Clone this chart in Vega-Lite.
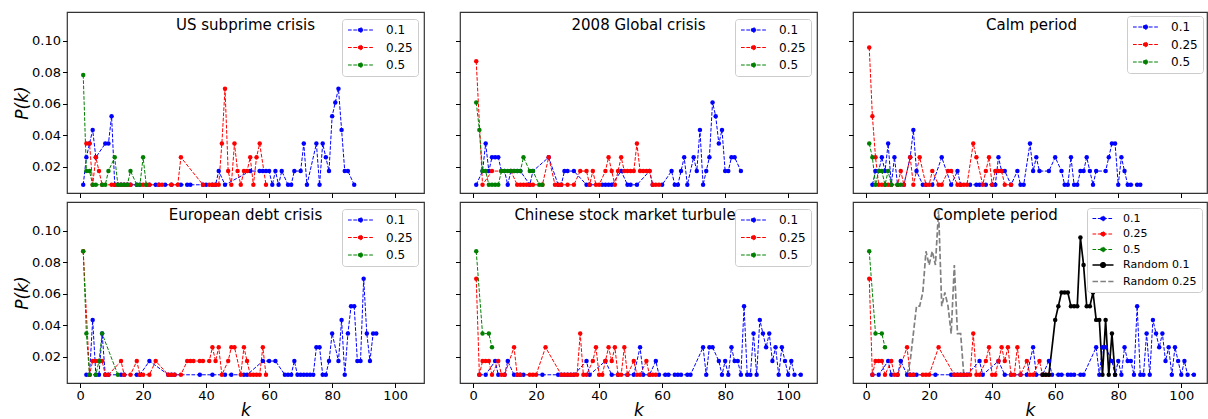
{
"$schema": "https://vega.github.io/schema/vega-lite/v6.json",
"padding": {"left": 12, "top": 11, "right": 0, "bottom": 0},
"background": "white",
"config": {
  "font": "DejaVu Sans",
  "view": {"stroke": "#333333", "strokeWidth": 1.2},
  "axis": {"domain": false, "grid": false, "tickColor": "#000000", "tickSize": 4.5, "tickWidth": 1, "labelFont": "DejaVu Sans", "labelFontSize": 13, "labelColor": "#000000", "labelPadding": 2, "titleFont": "DejaVu Sans", "titleFontSize": 17, "titleFontStyle": "italic", "titleFontWeight": "normal", "titleColor": "#000000"},
  "axisY": {"titlePadding": 0},
  "axisX": {"titlePadding": 0},
  "legend": {"labelFont": "DejaVu Sans", "labelColor": "#000000"},
  "title": {"font": "DejaVu Sans", "fontSize": 15, "fontWeight": "normal", "color": "#000000", "anchor": "middle", "frame": "group", "offset": -21, "baseline": "alphabetic"}
},
"data": {"values": [
{"panel":"US","series":"0.1","k":1,"p":0.0087},{"panel":"US","series":"0.1","k":2,"p":0.0261},{"panel":"US","series":"0.1","k":3,"p":0.0348},{"panel":"US","series":"0.1","k":4,"p":0.0435},{"panel":"US","series":"0.1","k":5,"p":0.0261},{"panel":"US","series":"0.1","k":8,"p":0.0348},{"panel":"US","series":"0.1","k":9,"p":0.0348},{"panel":"US","series":"0.1","k":10,"p":0.0522},{"panel":"US","series":"0.1","k":11,"p":0.0087},{"panel":"US","series":"0.1","k":12,"p":0.0087},{"panel":"US","series":"0.1","k":13,"p":0.0087},{"panel":"US","series":"0.1","k":14,"p":0.0087},{"panel":"US","series":"0.1","k":15,"p":0.0087},{"panel":"US","series":"0.1","k":16,"p":0.0087},{"panel":"US","series":"0.1","k":18,"p":0.0087},{"panel":"US","series":"0.1","k":19,"p":0.0087},{"panel":"US","series":"0.1","k":22,"p":0.0087},{"panel":"US","series":"0.1","k":24,"p":0.0087},{"panel":"US","series":"0.1","k":25,"p":0.0087},{"panel":"US","series":"0.1","k":27,"p":0.0087},{"panel":"US","series":"0.1","k":29,"p":0.0087},{"panel":"US","series":"0.1","k":32,"p":0.0087},{"panel":"US","series":"0.1","k":34,"p":0.0087},{"panel":"US","series":"0.1","k":35,"p":0.0087},{"panel":"US","series":"0.1","k":39,"p":0.0087},{"panel":"US","series":"0.1","k":40,"p":0.0087},{"panel":"US","series":"0.1","k":42,"p":0.0087},{"panel":"US","series":"0.1","k":43,"p":0.0087},{"panel":"US","series":"0.1","k":44,"p":0.0174},{"panel":"US","series":"0.1","k":46,"p":0.0087},{"panel":"US","series":"0.1","k":54,"p":0.0174},{"panel":"US","series":"0.1","k":57,"p":0.0174},{"panel":"US","series":"0.1","k":58,"p":0.0174},{"panel":"US","series":"0.1","k":59,"p":0.0174},{"panel":"US","series":"0.1","k":60,"p":0.0174},{"panel":"US","series":"0.1","k":61,"p":0.0087},{"panel":"US","series":"0.1","k":62,"p":0.0174},{"panel":"US","series":"0.1","k":63,"p":0.0087},{"panel":"US","series":"0.1","k":64,"p":0.0174},{"panel":"US","series":"0.1","k":66,"p":0.0087},{"panel":"US","series":"0.1","k":67,"p":0.0087},{"panel":"US","series":"0.1","k":68,"p":0.0174},{"panel":"US","series":"0.1","k":70,"p":0.0174},{"panel":"US","series":"0.1","k":71,"p":0.0348},{"panel":"US","series":"0.1","k":72,"p":0.0087},{"panel":"US","series":"0.1","k":75,"p":0.0348},{"panel":"US","series":"0.1","k":76,"p":0.0087},{"panel":"US","series":"0.1","k":77,"p":0.0348},{"panel":"US","series":"0.1","k":78,"p":0.0261},{"panel":"US","series":"0.1","k":79,"p":0.0174},{"panel":"US","series":"0.1","k":80,"p":0.0522},{"panel":"US","series":"0.1","k":81,"p":0.0609},{"panel":"US","series":"0.1","k":82,"p":0.0696},{"panel":"US","series":"0.1","k":83,"p":0.0435},{"panel":"US","series":"0.1","k":84,"p":0.0174},{"panel":"US","series":"0.1","k":85,"p":0.0174},{"panel":"US","series":"0.1","k":87,"p":0.0087},
{"panel":"US","series":"0.25","k":2,"p":0.0348},{"panel":"US","series":"0.25","k":3,"p":0.0348},{"panel":"US","series":"0.25","k":4,"p":0.0087},{"panel":"US","series":"0.25","k":5,"p":0.0261},{"panel":"US","series":"0.25","k":6,"p":0.0174},{"panel":"US","series":"0.25","k":7,"p":0.0087},{"panel":"US","series":"0.25","k":10,"p":0.0087},{"panel":"US","series":"0.25","k":11,"p":0.0087},{"panel":"US","series":"0.25","k":12,"p":0.0087},{"panel":"US","series":"0.25","k":13,"p":0.0087},{"panel":"US","series":"0.25","k":14,"p":0.0087},{"panel":"US","series":"0.25","k":15,"p":0.0087},{"panel":"US","series":"0.25","k":16,"p":0.0087},{"panel":"US","series":"0.25","k":20,"p":0.0087},{"panel":"US","series":"0.25","k":21,"p":0.0087},{"panel":"US","series":"0.25","k":22,"p":0.0087},{"panel":"US","series":"0.25","k":25,"p":0.0087},{"panel":"US","series":"0.25","k":26,"p":0.0087},{"panel":"US","series":"0.25","k":29,"p":0.0087},{"panel":"US","series":"0.25","k":31,"p":0.0087},{"panel":"US","series":"0.25","k":32,"p":0.0261},{"panel":"US","series":"0.25","k":39,"p":0.0087},{"panel":"US","series":"0.25","k":41,"p":0.0087},{"panel":"US","series":"0.25","k":42,"p":0.0087},{"panel":"US","series":"0.25","k":43,"p":0.0087},{"panel":"US","series":"0.25","k":44,"p":0.0087},{"panel":"US","series":"0.25","k":45,"p":0.0348},{"panel":"US","series":"0.25","k":46,"p":0.0696},{"panel":"US","series":"0.25","k":47,"p":0.0174},{"panel":"US","series":"0.25","k":48,"p":0.0087},{"panel":"US","series":"0.25","k":49,"p":0.0348},{"panel":"US","series":"0.25","k":50,"p":0.0174},{"panel":"US","series":"0.25","k":51,"p":0.0087},{"panel":"US","series":"0.25","k":52,"p":0.0174},{"panel":"US","series":"0.25","k":53,"p":0.0174},{"panel":"US","series":"0.25","k":54,"p":0.0261},{"panel":"US","series":"0.25","k":55,"p":0.0087},{"panel":"US","series":"0.25","k":56,"p":0.0261},{"panel":"US","series":"0.25","k":57,"p":0.0348},{"panel":"US","series":"0.25","k":59,"p":0.0087},
{"panel":"US","series":"0.5","k":1,"p":0.0783},{"panel":"US","series":"0.5","k":2,"p":0.0174},{"panel":"US","series":"0.5","k":3,"p":0.0174},{"panel":"US","series":"0.5","k":4,"p":0.0087},{"panel":"US","series":"0.5","k":5,"p":0.0087},{"panel":"US","series":"0.5","k":7,"p":0.0087},{"panel":"US","series":"0.5","k":8,"p":0.0087},{"panel":"US","series":"0.5","k":9,"p":0.0174},{"panel":"US","series":"0.5","k":11,"p":0.0261},{"panel":"US","series":"0.5","k":12,"p":0.0087},{"panel":"US","series":"0.5","k":13,"p":0.0087},{"panel":"US","series":"0.5","k":14,"p":0.0087},{"panel":"US","series":"0.5","k":15,"p":0.0087},{"panel":"US","series":"0.5","k":16,"p":0.0174},{"panel":"US","series":"0.5","k":18,"p":0.0087},{"panel":"US","series":"0.5","k":19,"p":0.0087},{"panel":"US","series":"0.5","k":20,"p":0.0261},{"panel":"US","series":"0.5","k":21,"p":0.0087},
{"panel":"GL","series":"0.1","k":1,"p":0.0087},{"panel":"GL","series":"0.1","k":3,"p":0.0174},{"panel":"GL","series":"0.1","k":4,"p":0.0348},{"panel":"GL","series":"0.1","k":5,"p":0.0174},{"panel":"GL","series":"0.1","k":6,"p":0.0261},{"panel":"GL","series":"0.1","k":7,"p":0.0261},{"panel":"GL","series":"0.1","k":8,"p":0.0261},{"panel":"GL","series":"0.1","k":9,"p":0.0174},{"panel":"GL","series":"0.1","k":10,"p":0.0174},{"panel":"GL","series":"0.1","k":11,"p":0.0087},{"panel":"GL","series":"0.1","k":12,"p":0.0174},{"panel":"GL","series":"0.1","k":13,"p":0.0174},{"panel":"GL","series":"0.1","k":14,"p":0.0174},{"panel":"GL","series":"0.1","k":15,"p":0.0174},{"panel":"GL","series":"0.1","k":18,"p":0.0087},{"panel":"GL","series":"0.1","k":19,"p":0.0174},{"panel":"GL","series":"0.1","k":24,"p":0.0261},{"panel":"GL","series":"0.1","k":27,"p":0.0087},{"panel":"GL","series":"0.1","k":28,"p":0.0087},{"panel":"GL","series":"0.1","k":29,"p":0.0174},{"panel":"GL","series":"0.1","k":30,"p":0.0174},{"panel":"GL","series":"0.1","k":32,"p":0.0174},{"panel":"GL","series":"0.1","k":36,"p":0.0087},{"panel":"GL","series":"0.1","k":37,"p":0.0087},{"panel":"GL","series":"0.1","k":41,"p":0.0087},{"panel":"GL","series":"0.1","k":42,"p":0.0087},{"panel":"GL","series":"0.1","k":43,"p":0.0087},{"panel":"GL","series":"0.1","k":44,"p":0.0087},{"panel":"GL","series":"0.1","k":47,"p":0.0174},{"panel":"GL","series":"0.1","k":49,"p":0.0087},{"panel":"GL","series":"0.1","k":50,"p":0.0087},{"panel":"GL","series":"0.1","k":52,"p":0.0087},{"panel":"GL","series":"0.1","k":56,"p":0.0174},{"panel":"GL","series":"0.1","k":57,"p":0.0087},{"panel":"GL","series":"0.1","k":60,"p":0.0087},{"panel":"GL","series":"0.1","k":63,"p":0.0174},{"panel":"GL","series":"0.1","k":64,"p":0.0087},{"panel":"GL","series":"0.1","k":65,"p":0.0087},{"panel":"GL","series":"0.1","k":66,"p":0.0174},{"panel":"GL","series":"0.1","k":67,"p":0.0261},{"panel":"GL","series":"0.1","k":68,"p":0.0087},{"panel":"GL","series":"0.1","k":70,"p":0.0261},{"panel":"GL","series":"0.1","k":71,"p":0.0174},{"panel":"GL","series":"0.1","k":72,"p":0.0435},{"panel":"GL","series":"0.1","k":73,"p":0.0087},{"panel":"GL","series":"0.1","k":74,"p":0.0174},{"panel":"GL","series":"0.1","k":75,"p":0.0261},{"panel":"GL","series":"0.1","k":76,"p":0.0609},{"panel":"GL","series":"0.1","k":77,"p":0.0522},{"panel":"GL","series":"0.1","k":78,"p":0.0348},{"panel":"GL","series":"0.1","k":79,"p":0.0435},{"panel":"GL","series":"0.1","k":80,"p":0.0174},{"panel":"GL","series":"0.1","k":81,"p":0.0174},{"panel":"GL","series":"0.1","k":82,"p":0.0261},{"panel":"GL","series":"0.1","k":83,"p":0.0261},{"panel":"GL","series":"0.1","k":85,"p":0.0174},
{"panel":"GL","series":"0.25","k":1,"p":0.087},{"panel":"GL","series":"0.25","k":3,"p":0.0087},{"panel":"GL","series":"0.25","k":6,"p":0.0174},{"panel":"GL","series":"0.25","k":9,"p":0.0174},{"panel":"GL","series":"0.25","k":12,"p":0.0174},{"panel":"GL","series":"0.25","k":14,"p":0.0087},{"panel":"GL","series":"0.25","k":15,"p":0.0087},{"panel":"GL","series":"0.25","k":16,"p":0.0087},{"panel":"GL","series":"0.25","k":17,"p":0.0087},{"panel":"GL","series":"0.25","k":18,"p":0.0087},{"panel":"GL","series":"0.25","k":19,"p":0.0087},{"panel":"GL","series":"0.25","k":22,"p":0.0087},{"panel":"GL","series":"0.25","k":24,"p":0.0261},{"panel":"GL","series":"0.25","k":26,"p":0.0087},{"panel":"GL","series":"0.25","k":27,"p":0.0087},{"panel":"GL","series":"0.25","k":28,"p":0.0087},{"panel":"GL","series":"0.25","k":30,"p":0.0087},{"panel":"GL","series":"0.25","k":32,"p":0.0087},{"panel":"GL","series":"0.25","k":34,"p":0.0174},{"panel":"GL","series":"0.25","k":36,"p":0.0174},{"panel":"GL","series":"0.25","k":37,"p":0.0087},{"panel":"GL","series":"0.25","k":38,"p":0.0174},{"panel":"GL","series":"0.25","k":39,"p":0.0087},{"panel":"GL","series":"0.25","k":40,"p":0.0087},{"panel":"GL","series":"0.25","k":42,"p":0.0174},{"panel":"GL","series":"0.25","k":43,"p":0.0261},{"panel":"GL","series":"0.25","k":44,"p":0.0174},{"panel":"GL","series":"0.25","k":45,"p":0.0087},{"panel":"GL","series":"0.25","k":46,"p":0.0174},{"panel":"GL","series":"0.25","k":47,"p":0.0261},{"panel":"GL","series":"0.25","k":48,"p":0.0174},{"panel":"GL","series":"0.25","k":49,"p":0.0174},{"panel":"GL","series":"0.25","k":50,"p":0.0174},{"panel":"GL","series":"0.25","k":51,"p":0.0174},{"panel":"GL","series":"0.25","k":52,"p":0.0348},{"panel":"GL","series":"0.25","k":53,"p":0.0174},{"panel":"GL","series":"0.25","k":54,"p":0.0174},{"panel":"GL","series":"0.25","k":55,"p":0.0174},{"panel":"GL","series":"0.25","k":56,"p":0.0174},{"panel":"GL","series":"0.25","k":57,"p":0.0087},{"panel":"GL","series":"0.25","k":58,"p":0.0087},{"panel":"GL","series":"0.25","k":59,"p":0.0087},
{"panel":"GL","series":"0.5","k":1,"p":0.0609},{"panel":"GL","series":"0.5","k":2,"p":0.0435},{"panel":"GL","series":"0.5","k":3,"p":0.0174},{"panel":"GL","series":"0.5","k":4,"p":0.0174},{"panel":"GL","series":"0.5","k":5,"p":0.0087},{"panel":"GL","series":"0.5","k":6,"p":0.0087},{"panel":"GL","series":"0.5","k":7,"p":0.0087},{"panel":"GL","series":"0.5","k":8,"p":0.0087},{"panel":"GL","series":"0.5","k":9,"p":0.0174},{"panel":"GL","series":"0.5","k":10,"p":0.0174},{"panel":"GL","series":"0.5","k":11,"p":0.0174},{"panel":"GL","series":"0.5","k":12,"p":0.0174},{"panel":"GL","series":"0.5","k":13,"p":0.0174},{"panel":"GL","series":"0.5","k":14,"p":0.0174},{"panel":"GL","series":"0.5","k":15,"p":0.0174},{"panel":"GL","series":"0.5","k":16,"p":0.0261},{"panel":"GL","series":"0.5","k":18,"p":0.0174},{"panel":"GL","series":"0.5","k":19,"p":0.0174},{"panel":"GL","series":"0.5","k":21,"p":0.0087},{"panel":"GL","series":"0.5","k":22,"p":0.0087},
{"panel":"CA","series":"0.1","k":2,"p":0.0087},{"panel":"CA","series":"0.1","k":3,"p":0.0174},{"panel":"CA","series":"0.1","k":4,"p":0.0174},{"panel":"CA","series":"0.1","k":5,"p":0.0261},{"panel":"CA","series":"0.1","k":6,"p":0.0174},{"panel":"CA","series":"0.1","k":7,"p":0.0348},{"panel":"CA","series":"0.1","k":8,"p":0.0087},{"panel":"CA","series":"0.1","k":9,"p":0.0261},{"panel":"CA","series":"0.1","k":10,"p":0.0087},{"panel":"CA","series":"0.1","k":12,"p":0.0087},{"panel":"CA","series":"0.1","k":14,"p":0.0261},{"panel":"CA","series":"0.1","k":15,"p":0.0435},{"panel":"CA","series":"0.1","k":16,"p":0.0174},{"panel":"CA","series":"0.1","k":18,"p":0.0087},{"panel":"CA","series":"0.1","k":19,"p":0.0087},{"panel":"CA","series":"0.1","k":21,"p":0.0087},{"panel":"CA","series":"0.1","k":24,"p":0.0261},{"panel":"CA","series":"0.1","k":27,"p":0.0087},{"panel":"CA","series":"0.1","k":29,"p":0.0174},{"panel":"CA","series":"0.1","k":30,"p":0.0087},{"panel":"CA","series":"0.1","k":33,"p":0.0087},{"panel":"CA","series":"0.1","k":35,"p":0.0087},{"panel":"CA","series":"0.1","k":36,"p":0.0087},{"panel":"CA","series":"0.1","k":38,"p":0.0087},{"panel":"CA","series":"0.1","k":40,"p":0.0087},{"panel":"CA","series":"0.1","k":41,"p":0.0087},{"panel":"CA","series":"0.1","k":42,"p":0.0261},{"panel":"CA","series":"0.1","k":43,"p":0.0174},{"panel":"CA","series":"0.1","k":44,"p":0.0174},{"panel":"CA","series":"0.1","k":46,"p":0.0087},{"panel":"CA","series":"0.1","k":48,"p":0.0174},{"panel":"CA","series":"0.1","k":49,"p":0.0087},{"panel":"CA","series":"0.1","k":50,"p":0.0087},{"panel":"CA","series":"0.1","k":52,"p":0.0348},{"panel":"CA","series":"0.1","k":53,"p":0.0174},{"panel":"CA","series":"0.1","k":54,"p":0.0261},{"panel":"CA","series":"0.1","k":55,"p":0.0174},{"panel":"CA","series":"0.1","k":58,"p":0.0174},{"panel":"CA","series":"0.1","k":60,"p":0.0261},{"panel":"CA","series":"0.1","k":62,"p":0.0174},{"panel":"CA","series":"0.1","k":63,"p":0.0087},{"panel":"CA","series":"0.1","k":64,"p":0.0087},{"panel":"CA","series":"0.1","k":65,"p":0.0261},{"panel":"CA","series":"0.1","k":66,"p":0.0087},{"panel":"CA","series":"0.1","k":67,"p":0.0087},{"panel":"CA","series":"0.1","k":68,"p":0.0174},{"panel":"CA","series":"0.1","k":69,"p":0.0174},{"panel":"CA","series":"0.1","k":70,"p":0.0261},{"panel":"CA","series":"0.1","k":71,"p":0.0174},{"panel":"CA","series":"0.1","k":72,"p":0.0087},{"panel":"CA","series":"0.1","k":73,"p":0.0174},{"panel":"CA","series":"0.1","k":76,"p":0.0174},{"panel":"CA","series":"0.1","k":77,"p":0.0261},{"panel":"CA","series":"0.1","k":78,"p":0.0348},{"panel":"CA","series":"0.1","k":79,"p":0.0348},{"panel":"CA","series":"0.1","k":80,"p":0.0087},{"panel":"CA","series":"0.1","k":81,"p":0.0261},{"panel":"CA","series":"0.1","k":82,"p":0.0174},{"panel":"CA","series":"0.1","k":83,"p":0.0087},{"panel":"CA","series":"0.1","k":84,"p":0.0087},{"panel":"CA","series":"0.1","k":86,"p":0.0087},{"panel":"CA","series":"0.1","k":87,"p":0.0087},
{"panel":"CA","series":"0.25","k":1,"p":0.0957},{"panel":"CA","series":"0.25","k":2,"p":0.0522},{"panel":"CA","series":"0.25","k":3,"p":0.0261},{"panel":"CA","series":"0.25","k":4,"p":0.0087},{"panel":"CA","series":"0.25","k":5,"p":0.0087},{"panel":"CA","series":"0.25","k":6,"p":0.0087},{"panel":"CA","series":"0.25","k":7,"p":0.0087},{"panel":"CA","series":"0.25","k":8,"p":0.0087},{"panel":"CA","series":"0.25","k":10,"p":0.0087},{"panel":"CA","series":"0.25","k":11,"p":0.0174},{"panel":"CA","series":"0.25","k":12,"p":0.0087},{"panel":"CA","series":"0.25","k":14,"p":0.0261},{"panel":"CA","series":"0.25","k":15,"p":0.0087},{"panel":"CA","series":"0.25","k":17,"p":0.0261},{"panel":"CA","series":"0.25","k":19,"p":0.0087},{"panel":"CA","series":"0.25","k":20,"p":0.0087},{"panel":"CA","series":"0.25","k":21,"p":0.0174},{"panel":"CA","series":"0.25","k":23,"p":0.0087},{"panel":"CA","series":"0.25","k":24,"p":0.0087},{"panel":"CA","series":"0.25","k":26,"p":0.0174},{"panel":"CA","series":"0.25","k":27,"p":0.0174},{"panel":"CA","series":"0.25","k":29,"p":0.0087},{"panel":"CA","series":"0.25","k":30,"p":0.0087},{"panel":"CA","series":"0.25","k":31,"p":0.0087},{"panel":"CA","series":"0.25","k":32,"p":0.0087},{"panel":"CA","series":"0.25","k":34,"p":0.0348},{"panel":"CA","series":"0.25","k":35,"p":0.0261},{"panel":"CA","series":"0.25","k":37,"p":0.0087},{"panel":"CA","series":"0.25","k":38,"p":0.0174},{"panel":"CA","series":"0.25","k":39,"p":0.0261},{"panel":"CA","series":"0.25","k":40,"p":0.0087},{"panel":"CA","series":"0.25","k":41,"p":0.0174},{"panel":"CA","series":"0.25","k":42,"p":0.0174},{"panel":"CA","series":"0.25","k":43,"p":0.0174},{"panel":"CA","series":"0.25","k":44,"p":0.0087},{"panel":"CA","series":"0.25","k":46,"p":0.0087},
{"panel":"CA","series":"0.5","k":1,"p":0.0348},{"panel":"CA","series":"0.5","k":2,"p":0.0261},{"panel":"CA","series":"0.5","k":3,"p":0.0087},{"panel":"CA","series":"0.5","k":4,"p":0.0174},{"panel":"CA","series":"0.5","k":5,"p":0.0174},{"panel":"CA","series":"0.5","k":6,"p":0.0087},{"panel":"CA","series":"0.5","k":7,"p":0.0174},{"panel":"CA","series":"0.5","k":8,"p":0.0087},{"panel":"CA","series":"0.5","k":10,"p":0.0087},{"panel":"CA","series":"0.5","k":11,"p":0.0087},
{"panel":"EU","series":"0.1","k":2,"p":0.0087},{"panel":"EU","series":"0.1","k":3,"p":0.0087},{"panel":"EU","series":"0.1","k":4,"p":0.0435},{"panel":"EU","series":"0.1","k":5,"p":0.0087},{"panel":"EU","series":"0.1","k":6,"p":0.0087},{"panel":"EU","series":"0.1","k":7,"p":0.0348},{"panel":"EU","series":"0.1","k":8,"p":0.0087},{"panel":"EU","series":"0.1","k":9,"p":0.0087},{"panel":"EU","series":"0.1","k":13,"p":0.0087},{"panel":"EU","series":"0.1","k":14,"p":0.0087},{"panel":"EU","series":"0.1","k":18,"p":0.0087},{"panel":"EU","series":"0.1","k":19,"p":0.0087},{"panel":"EU","series":"0.1","k":22,"p":0.0174},{"panel":"EU","series":"0.1","k":28,"p":0.0087},{"panel":"EU","series":"0.1","k":29,"p":0.0087},{"panel":"EU","series":"0.1","k":30,"p":0.0087},{"panel":"EU","series":"0.1","k":38,"p":0.0087},{"panel":"EU","series":"0.1","k":42,"p":0.0087},{"panel":"EU","series":"0.1","k":46,"p":0.0087},{"panel":"EU","series":"0.1","k":48,"p":0.0087},{"panel":"EU","series":"0.1","k":52,"p":0.0087},{"panel":"EU","series":"0.1","k":53,"p":0.0087},{"panel":"EU","series":"0.1","k":58,"p":0.0174},{"panel":"EU","series":"0.1","k":60,"p":0.0174},{"panel":"EU","series":"0.1","k":62,"p":0.0174},{"panel":"EU","series":"0.1","k":65,"p":0.0087},{"panel":"EU","series":"0.1","k":66,"p":0.0087},{"panel":"EU","series":"0.1","k":67,"p":0.0087},{"panel":"EU","series":"0.1","k":68,"p":0.0174},{"panel":"EU","series":"0.1","k":69,"p":0.0087},{"panel":"EU","series":"0.1","k":70,"p":0.0087},{"panel":"EU","series":"0.1","k":71,"p":0.0087},{"panel":"EU","series":"0.1","k":72,"p":0.0087},{"panel":"EU","series":"0.1","k":73,"p":0.0087},{"panel":"EU","series":"0.1","k":74,"p":0.0087},{"panel":"EU","series":"0.1","k":75,"p":0.0261},{"panel":"EU","series":"0.1","k":76,"p":0.0261},{"panel":"EU","series":"0.1","k":77,"p":0.0087},{"panel":"EU","series":"0.1","k":78,"p":0.0087},{"panel":"EU","series":"0.1","k":79,"p":0.0174},{"panel":"EU","series":"0.1","k":80,"p":0.0348},{"panel":"EU","series":"0.1","k":82,"p":0.0174},{"panel":"EU","series":"0.1","k":83,"p":0.0435},{"panel":"EU","series":"0.1","k":84,"p":0.0087},{"panel":"EU","series":"0.1","k":85,"p":0.0348},{"panel":"EU","series":"0.1","k":86,"p":0.0522},{"panel":"EU","series":"0.1","k":87,"p":0.0522},{"panel":"EU","series":"0.1","k":88,"p":0.0174},{"panel":"EU","series":"0.1","k":89,"p":0.0174},{"panel":"EU","series":"0.1","k":90,"p":0.0696},{"panel":"EU","series":"0.1","k":91,"p":0.0348},{"panel":"EU","series":"0.1","k":92,"p":0.0174},{"panel":"EU","series":"0.1","k":93,"p":0.0348},{"panel":"EU","series":"0.1","k":94,"p":0.0348},
{"panel":"EU","series":"0.25","k":1,"p":0.087},{"panel":"EU","series":"0.25","k":3,"p":0.0087},{"panel":"EU","series":"0.25","k":4,"p":0.0174},{"panel":"EU","series":"0.25","k":5,"p":0.0174},{"panel":"EU","series":"0.25","k":6,"p":0.0174},{"panel":"EU","series":"0.25","k":7,"p":0.0174},{"panel":"EU","series":"0.25","k":8,"p":0.0087},{"panel":"EU","series":"0.25","k":9,"p":0.0087},{"panel":"EU","series":"0.25","k":13,"p":0.0174},{"panel":"EU","series":"0.25","k":14,"p":0.0087},{"panel":"EU","series":"0.25","k":16,"p":0.0087},{"panel":"EU","series":"0.25","k":18,"p":0.0174},{"panel":"EU","series":"0.25","k":19,"p":0.0087},{"panel":"EU","series":"0.25","k":20,"p":0.0087},{"panel":"EU","series":"0.25","k":22,"p":0.0087},{"panel":"EU","series":"0.25","k":24,"p":0.0174},{"panel":"EU","series":"0.25","k":28,"p":0.0087},{"panel":"EU","series":"0.25","k":29,"p":0.0087},{"panel":"EU","series":"0.25","k":30,"p":0.0087},{"panel":"EU","series":"0.25","k":32,"p":0.0087},{"panel":"EU","series":"0.25","k":34,"p":0.0174},{"panel":"EU","series":"0.25","k":35,"p":0.0174},{"panel":"EU","series":"0.25","k":36,"p":0.0174},{"panel":"EU","series":"0.25","k":38,"p":0.0174},{"panel":"EU","series":"0.25","k":39,"p":0.0174},{"panel":"EU","series":"0.25","k":41,"p":0.0174},{"panel":"EU","series":"0.25","k":42,"p":0.0261},{"panel":"EU","series":"0.25","k":43,"p":0.0174},{"panel":"EU","series":"0.25","k":44,"p":0.0261},{"panel":"EU","series":"0.25","k":45,"p":0.0087},{"panel":"EU","series":"0.25","k":47,"p":0.0174},{"panel":"EU","series":"0.25","k":48,"p":0.0261},{"panel":"EU","series":"0.25","k":49,"p":0.0261},{"panel":"EU","series":"0.25","k":51,"p":0.0087},{"panel":"EU","series":"0.25","k":52,"p":0.0261},{"panel":"EU","series":"0.25","k":53,"p":0.0174},{"panel":"EU","series":"0.25","k":54,"p":0.0087},{"panel":"EU","series":"0.25","k":55,"p":0.0087},{"panel":"EU","series":"0.25","k":56,"p":0.0087},{"panel":"EU","series":"0.25","k":57,"p":0.0087},{"panel":"EU","series":"0.25","k":58,"p":0.0261},{"panel":"EU","series":"0.25","k":59,"p":0.0087},
{"panel":"EU","series":"0.5","k":1,"p":0.087},{"panel":"EU","series":"0.5","k":2,"p":0.0348},{"panel":"EU","series":"0.5","k":3,"p":0.0087},{"panel":"EU","series":"0.5","k":5,"p":0.0087},{"panel":"EU","series":"0.5","k":6,"p":0.0174},{"panel":"EU","series":"0.5","k":7,"p":0.0348},{"panel":"EU","series":"0.5","k":12,"p":0.0087},
{"panel":"CN","series":"0.1","k":2,"p":0.0087},{"panel":"CN","series":"0.1","k":4,"p":0.0087},{"panel":"CN","series":"0.1","k":7,"p":0.0174},{"panel":"CN","series":"0.1","k":8,"p":0.0087},{"panel":"CN","series":"0.1","k":10,"p":0.0087},{"panel":"CN","series":"0.1","k":11,"p":0.0174},{"panel":"CN","series":"0.1","k":13,"p":0.0087},{"panel":"CN","series":"0.1","k":14,"p":0.0087},{"panel":"CN","series":"0.1","k":15,"p":0.0087},{"panel":"CN","series":"0.1","k":16,"p":0.0087},{"panel":"CN","series":"0.1","k":22,"p":0.0087},{"panel":"CN","series":"0.1","k":27,"p":0.0087},{"panel":"CN","series":"0.1","k":28,"p":0.0087},{"panel":"CN","series":"0.1","k":29,"p":0.0087},{"panel":"CN","series":"0.1","k":30,"p":0.0087},{"panel":"CN","series":"0.1","k":31,"p":0.0087},{"panel":"CN","series":"0.1","k":32,"p":0.0087},{"panel":"CN","series":"0.1","k":36,"p":0.0174},{"panel":"CN","series":"0.1","k":37,"p":0.0087},{"panel":"CN","series":"0.1","k":42,"p":0.0174},{"panel":"CN","series":"0.1","k":44,"p":0.0087},{"panel":"CN","series":"0.1","k":46,"p":0.0087},{"panel":"CN","series":"0.1","k":49,"p":0.0087},{"panel":"CN","series":"0.1","k":51,"p":0.0087},{"panel":"CN","series":"0.1","k":53,"p":0.0261},{"panel":"CN","series":"0.1","k":54,"p":0.0087},{"panel":"CN","series":"0.1","k":56,"p":0.0087},{"panel":"CN","series":"0.1","k":58,"p":0.0174},{"panel":"CN","series":"0.1","k":59,"p":0.0087},{"panel":"CN","series":"0.1","k":61,"p":0.0087},{"panel":"CN","series":"0.1","k":62,"p":0.0087},{"panel":"CN","series":"0.1","k":64,"p":0.0087},{"panel":"CN","series":"0.1","k":65,"p":0.0087},{"panel":"CN","series":"0.1","k":66,"p":0.0087},{"panel":"CN","series":"0.1","k":68,"p":0.0087},{"panel":"CN","series":"0.1","k":69,"p":0.0087},{"panel":"CN","series":"0.1","k":73,"p":0.0261},{"panel":"CN","series":"0.1","k":74,"p":0.0087},{"panel":"CN","series":"0.1","k":75,"p":0.0261},{"panel":"CN","series":"0.1","k":76,"p":0.0261},{"panel":"CN","series":"0.1","k":78,"p":0.0174},{"panel":"CN","series":"0.1","k":79,"p":0.0087},{"panel":"CN","series":"0.1","k":80,"p":0.0174},{"panel":"CN","series":"0.1","k":81,"p":0.0087},{"panel":"CN","series":"0.1","k":82,"p":0.0261},{"panel":"CN","series":"0.1","k":83,"p":0.0174},{"panel":"CN","series":"0.1","k":84,"p":0.0174},{"panel":"CN","series":"0.1","k":85,"p":0.0087},{"panel":"CN","series":"0.1","k":86,"p":0.0522},{"panel":"CN","series":"0.1","k":87,"p":0.0087},{"panel":"CN","series":"0.1","k":88,"p":0.0087},{"panel":"CN","series":"0.1","k":89,"p":0.0348},{"panel":"CN","series":"0.1","k":90,"p":0.0087},{"panel":"CN","series":"0.1","k":91,"p":0.0435},{"panel":"CN","series":"0.1","k":92,"p":0.0348},{"panel":"CN","series":"0.1","k":93,"p":0.0261},{"panel":"CN","series":"0.1","k":94,"p":0.0348},{"panel":"CN","series":"0.1","k":95,"p":0.0174},{"panel":"CN","series":"0.1","k":96,"p":0.0261},{"panel":"CN","series":"0.1","k":97,"p":0.0087},{"panel":"CN","series":"0.1","k":98,"p":0.0261},{"panel":"CN","series":"0.1","k":99,"p":0.0174},{"panel":"CN","series":"0.1","k":100,"p":0.0087},{"panel":"CN","series":"0.1","k":101,"p":0.0174},{"panel":"CN","series":"0.1","k":102,"p":0.0087},{"panel":"CN","series":"0.1","k":104,"p":0.0087},
{"panel":"CN","series":"0.25","k":1,"p":0.0696},{"panel":"CN","series":"0.25","k":2,"p":0.0087},{"panel":"CN","series":"0.25","k":3,"p":0.0174},{"panel":"CN","series":"0.25","k":4,"p":0.0174},{"panel":"CN","series":"0.25","k":5,"p":0.0174},{"panel":"CN","series":"0.25","k":6,"p":0.0087},{"panel":"CN","series":"0.25","k":8,"p":0.0174},{"panel":"CN","series":"0.25","k":9,"p":0.0087},{"panel":"CN","series":"0.25","k":10,"p":0.0087},{"panel":"CN","series":"0.25","k":13,"p":0.0261},{"panel":"CN","series":"0.25","k":14,"p":0.0087},{"panel":"CN","series":"0.25","k":15,"p":0.0087},{"panel":"CN","series":"0.25","k":18,"p":0.0087},{"panel":"CN","series":"0.25","k":19,"p":0.0087},{"panel":"CN","series":"0.25","k":20,"p":0.0087},{"panel":"CN","series":"0.25","k":23,"p":0.0261},{"panel":"CN","series":"0.25","k":28,"p":0.0087},{"panel":"CN","series":"0.25","k":29,"p":0.0087},{"panel":"CN","series":"0.25","k":30,"p":0.0087},{"panel":"CN","series":"0.25","k":31,"p":0.0087},{"panel":"CN","series":"0.25","k":32,"p":0.0087},{"panel":"CN","series":"0.25","k":33,"p":0.0087},{"panel":"CN","series":"0.25","k":34,"p":0.0348},{"panel":"CN","series":"0.25","k":35,"p":0.0087},{"panel":"CN","series":"0.25","k":36,"p":0.0087},{"panel":"CN","series":"0.25","k":38,"p":0.0174},{"panel":"CN","series":"0.25","k":39,"p":0.0261},{"panel":"CN","series":"0.25","k":40,"p":0.0087},{"panel":"CN","series":"0.25","k":41,"p":0.0087},{"panel":"CN","series":"0.25","k":42,"p":0.0174},{"panel":"CN","series":"0.25","k":43,"p":0.0261},{"panel":"CN","series":"0.25","k":44,"p":0.0174},{"panel":"CN","series":"0.25","k":45,"p":0.0261},{"panel":"CN","series":"0.25","k":46,"p":0.0087},{"panel":"CN","series":"0.25","k":47,"p":0.0087},{"panel":"CN","series":"0.25","k":48,"p":0.0261},{"panel":"CN","series":"0.25","k":49,"p":0.0087},{"panel":"CN","series":"0.25","k":51,"p":0.0174},{"panel":"CN","series":"0.25","k":52,"p":0.0087},{"panel":"CN","series":"0.25","k":53,"p":0.0087},{"panel":"CN","series":"0.25","k":55,"p":0.0174},{"panel":"CN","series":"0.25","k":56,"p":0.0087},{"panel":"CN","series":"0.25","k":57,"p":0.0087},{"panel":"CN","series":"0.25","k":58,"p":0.0087},
{"panel":"CN","series":"0.5","k":1,"p":0.087},{"panel":"CN","series":"0.5","k":3,"p":0.0348},{"panel":"CN","series":"0.5","k":5,"p":0.0348},{"panel":"CN","series":"0.5","k":6,"p":0.0261},
{"panel":"RD","series":"Random 0.1","k":56,"p":0.0087},{"panel":"RD","series":"Random 0.1","k":57,"p":0.0087},{"panel":"RD","series":"Random 0.1","k":58,"p":0.0087},{"panel":"RD","series":"Random 0.1","k":60,"p":0.0435},{"panel":"RD","series":"Random 0.1","k":61,"p":0.0522},{"panel":"RD","series":"Random 0.1","k":62,"p":0.0609},{"panel":"RD","series":"Random 0.1","k":63,"p":0.0609},{"panel":"RD","series":"Random 0.1","k":64,"p":0.0609},{"panel":"RD","series":"Random 0.1","k":65,"p":0.0522},{"panel":"RD","series":"Random 0.1","k":66,"p":0.0522},{"panel":"RD","series":"Random 0.1","k":67,"p":0.0522},{"panel":"RD","series":"Random 0.1","k":68,"p":0.0957},{"panel":"RD","series":"Random 0.1","k":69,"p":0.0783},{"panel":"RD","series":"Random 0.1","k":70,"p":0.0522},{"panel":"RD","series":"Random 0.1","k":71,"p":0.0522},{"panel":"RD","series":"Random 0.1","k":72,"p":0.0609},{"panel":"RD","series":"Random 0.1","k":73,"p":0.0435},{"panel":"RD","series":"Random 0.1","k":74,"p":0.0435},{"panel":"RD","series":"Random 0.1","k":75,"p":0.0087},{"panel":"RD","series":"Random 0.1","k":76,"p":0.0435},{"panel":"RD","series":"Random 0.1","k":77,"p":0.0087},{"panel":"RD","series":"Random 0.1","k":78,"p":0.0348},{"panel":"RD","series":"Random 0.1","k":79,"p":0.0087},
{"panel":"RD","series":"Random 0.25","k":13,"p":0.0087},{"panel":"RD","series":"Random 0.25","k":14,"p":0.0174},{"panel":"RD","series":"Random 0.25","k":15,"p":0.0348},{"panel":"RD","series":"Random 0.25","k":16,"p":0.0522},{"panel":"RD","series":"Random 0.25","k":17,"p":0.0522},{"panel":"RD","series":"Random 0.25","k":18,"p":0.0609},{"panel":"RD","series":"Random 0.25","k":19,"p":0.087},{"panel":"RD","series":"Random 0.25","k":20,"p":0.0783},{"panel":"RD","series":"Random 0.25","k":21,"p":0.087},{"panel":"RD","series":"Random 0.25","k":22,"p":0.0783},{"panel":"RD","series":"Random 0.25","k":23,"p":0.113},{"panel":"RD","series":"Random 0.25","k":24,"p":0.0522},{"panel":"RD","series":"Random 0.25","k":25,"p":0.0609},{"panel":"RD","series":"Random 0.25","k":26,"p":0.0522},{"panel":"RD","series":"Random 0.25","k":27,"p":0.0348},{"panel":"RD","series":"Random 0.25","k":28,"p":0.0783},{"panel":"RD","series":"Random 0.25","k":29,"p":0.0348},{"panel":"RD","series":"Random 0.25","k":30,"p":0.0348},{"panel":"RD","series":"Random 0.25","k":31,"p":0.0087},{"panel":"RD","series":"Random 0.25","k":32,"p":0.0087}
]},
"columns": 3,
"spacing": {"row": 9, "column": 36},
"bounds": "flush",
"align": "each",
"resolve": {"scale": {"color": "independent", "strokeDash": "independent", "x": "independent", "y": "independent"}},
"concat": [
{
 "width": 357, "height": 181,
 "title": {"text": "US subprime crisis"},
 "transform": [{"filter": "datum.panel == 'US'"}],
 "encoding": {
  "x": {"field": "k", "type": "quantitative", "scale": {"domain": [-4.15, 109.15], "nice": false, "zero": false}, "axis": {"values": [0,20,40,60,80,100], "labels": false, "title": null}},
  "y": {"field": "p", "type": "quantitative", "scale": {"domain": [0.0035, 0.1182], "nice": false, "zero": false}, "axis": {"values": [0.02,0.04,0.06,0.08,0.1], "format": ".2f", "title": "P(k)"}}
 },
 "layer": [
  {"mark": {"type": "line", "strokeWidth": 1, "strokeDash": [3.7, 1.6], "clip": true},
   "encoding": {"color": {"field": "series", "type": "nominal", "scale": {"domain": ["0.1","0.25","0.5"], "range": ["#0000ff","#ff0000","#008000"]},
     "legend": {"title": null, "orient": "top-right", "offset": 6.5, "padding": 5, "strokeColor": "#cccccc", "fillColor": "#ffffff", "cornerRadius": 3, "labelFontSize": 12, "symbolSize": 100, "labelOffset": 27, "rowPadding": 5.5, "zindex": 1,
       "encode": {"symbols": {"update": {"shape": {"value": "M-1,0H4M1.95,0A0.45,0.45,0,1,1,1.05,0A0.45,0.45,0,1,1,1.95,0Z"}, "fill": {"signal": "datum.value == '0.1' ? '#0000ff' : datum.value == '0.25' ? '#ff0000' : '#008000'"}, "stroke": {"signal": "datum.value == '0.1' ? '#0000ff' : datum.value == '0.25' ? '#ff0000' : '#008000'"}, "strokeDash": {"value": [3.7, 1.6]}, "strokeWidth": {"value": 1}, "opacity": {"value": 1}}}}}}}},
  {"mark": {"type": "circle", "size": 20, "opacity": 1, "clip": true},
   "encoding": {"color": {"field": "series", "type": "nominal", "legend": null}}}
 ]
},
{
 "width": 357, "height": 181,
 "title": {"text": "2008 Global crisis"},
 "transform": [{"filter": "datum.panel == 'GL'"}],
 "encoding": {
  "x": {"field": "k", "type": "quantitative", "scale": {"domain": [-4.15, 109.15], "nice": false, "zero": false}, "axis": {"values": [0,20,40,60,80,100], "labels": false, "title": null}},
  "y": {"field": "p", "type": "quantitative", "scale": {"domain": [0.0035, 0.1182], "nice": false, "zero": false}, "axis": {"values": [0.02,0.04,0.06,0.08,0.1], "labels": false, "title": null}}
 },
 "layer": [
  {"mark": {"type": "line", "strokeWidth": 1, "strokeDash": [3.7, 1.6], "clip": true},
   "encoding": {"color": {"field": "series", "type": "nominal", "scale": {"domain": ["0.1","0.25","0.5"], "range": ["#0000ff","#ff0000","#008000"]},
     "legend": {"title": null, "orient": "top-right", "offset": 6.5, "padding": 5, "strokeColor": "#cccccc", "fillColor": "#ffffff", "cornerRadius": 3, "labelFontSize": 12, "symbolSize": 100, "labelOffset": 27, "rowPadding": 5.5, "zindex": 1,
       "encode": {"symbols": {"update": {"shape": {"value": "M-1,0H4M1.95,0A0.45,0.45,0,1,1,1.05,0A0.45,0.45,0,1,1,1.95,0Z"}, "fill": {"signal": "datum.value == '0.1' ? '#0000ff' : datum.value == '0.25' ? '#ff0000' : '#008000'"}, "stroke": {"signal": "datum.value == '0.1' ? '#0000ff' : datum.value == '0.25' ? '#ff0000' : '#008000'"}, "strokeDash": {"value": [3.7, 1.6]}, "strokeWidth": {"value": 1}, "opacity": {"value": 1}}}}}}}},
  {"mark": {"type": "circle", "size": 20, "opacity": 1, "clip": true},
   "encoding": {"color": {"field": "series", "type": "nominal", "legend": null}}}
 ]
},
{
 "width": 354, "height": 181,
 "title": {"text": "Calm period", "dx": 1.5},
 "transform": [{"filter": "datum.panel == 'CA'"}],
 "encoding": {
  "x": {"field": "k", "type": "quantitative", "scale": {"domain": [-4.15, 108.16], "nice": false, "zero": false}, "axis": {"values": [0,20,40,60,80,100], "labels": false, "title": null}},
  "y": {"field": "p", "type": "quantitative", "scale": {"domain": [0.0035, 0.1182], "nice": false, "zero": false}, "axis": {"values": [0.02,0.04,0.06,0.08,0.1], "labels": false, "title": null}}
 },
 "layer": [
  {"mark": {"type": "line", "strokeWidth": 1, "strokeDash": [3.7, 1.6], "clip": true},
   "encoding": {"color": {"field": "series", "type": "nominal", "scale": {"domain": ["0.1","0.25","0.5"], "range": ["#0000ff","#ff0000","#008000"]},
     "legend": {"title": null, "orient": "top-right", "offset": 4, "padding": 5, "strokeColor": "#cccccc", "fillColor": "#ffffff", "cornerRadius": 3, "labelFontSize": 12, "symbolSize": 100, "labelOffset": 27, "rowPadding": 5.5, "zindex": 1,
       "encode": {"symbols": {"update": {"shape": {"value": "M-1,0H4M1.95,0A0.45,0.45,0,1,1,1.05,0A0.45,0.45,0,1,1,1.95,0Z"}, "fill": {"signal": "datum.value == '0.1' ? '#0000ff' : datum.value == '0.25' ? '#ff0000' : '#008000'"}, "stroke": {"signal": "datum.value == '0.1' ? '#0000ff' : datum.value == '0.25' ? '#ff0000' : '#008000'"}, "strokeDash": {"value": [3.7, 1.6]}, "strokeWidth": {"value": 1}, "opacity": {"value": 1}}}}}}}},
  {"mark": {"type": "circle", "size": 20, "opacity": 1, "clip": true},
   "encoding": {"color": {"field": "series", "type": "nominal", "legend": null}}}
 ]
},
{
 "width": 357, "height": 181,
 "title": {"text": "European debt crisis"},
 "transform": [{"filter": "datum.panel == 'EU'"}],
 "encoding": {
  "x": {"field": "k", "type": "quantitative", "scale": {"domain": [-4.15, 109.15], "nice": false, "zero": false}, "axis": {"values": [0,20,40,60,80,100], "title": "k"}},
  "y": {"field": "p", "type": "quantitative", "scale": {"domain": [0.0035, 0.1182], "nice": false, "zero": false}, "axis": {"values": [0.02,0.04,0.06,0.08,0.1], "format": ".2f", "title": "P(k)"}}
 },
 "layer": [
  {"mark": {"type": "line", "strokeWidth": 1, "strokeDash": [3.7, 1.6], "clip": true},
   "encoding": {"color": {"field": "series", "type": "nominal", "scale": {"domain": ["0.1","0.25","0.5"], "range": ["#0000ff","#ff0000","#008000"]},
     "legend": {"title": null, "orient": "top-right", "offset": 6.5, "padding": 5, "strokeColor": "#cccccc", "fillColor": "#ffffff", "cornerRadius": 3, "labelFontSize": 12, "symbolSize": 100, "labelOffset": 27, "rowPadding": 5.5, "zindex": 1,
       "encode": {"symbols": {"update": {"shape": {"value": "M-1,0H4M1.95,0A0.45,0.45,0,1,1,1.05,0A0.45,0.45,0,1,1,1.95,0Z"}, "fill": {"signal": "datum.value == '0.1' ? '#0000ff' : datum.value == '0.25' ? '#ff0000' : '#008000'"}, "stroke": {"signal": "datum.value == '0.1' ? '#0000ff' : datum.value == '0.25' ? '#ff0000' : '#008000'"}, "strokeDash": {"value": [3.7, 1.6]}, "strokeWidth": {"value": 1}, "opacity": {"value": 1}}}}}}}},
  {"mark": {"type": "circle", "size": 20, "opacity": 1, "clip": true},
   "encoding": {"color": {"field": "series", "type": "nominal", "legend": null}}}
 ]
},
{
 "width": 357, "height": 181,
 "title": {"text": "Chinese stock market turbulence"},
 "transform": [{"filter": "datum.panel == 'CN'"}],
 "encoding": {
  "x": {"field": "k", "type": "quantitative", "scale": {"domain": [-4.15, 109.15], "nice": false, "zero": false}, "axis": {"values": [0,20,40,60,80,100], "title": "k"}},
  "y": {"field": "p", "type": "quantitative", "scale": {"domain": [0.0035, 0.1182], "nice": false, "zero": false}, "axis": {"values": [0.02,0.04,0.06,0.08,0.1], "labels": false, "title": null}}
 },
 "layer": [
  {"mark": {"type": "line", "strokeWidth": 1, "strokeDash": [3.7, 1.6], "clip": true},
   "encoding": {"color": {"field": "series", "type": "nominal", "scale": {"domain": ["0.1","0.25","0.5"], "range": ["#0000ff","#ff0000","#008000"]},
     "legend": {"title": null, "orient": "top-right", "offset": 6.5, "padding": 5, "strokeColor": "#cccccc", "fillColor": "#ffffff", "cornerRadius": 3, "labelFontSize": 12, "symbolSize": 100, "labelOffset": 27, "rowPadding": 5.5, "zindex": 1,
       "encode": {"symbols": {"update": {"shape": {"value": "M-1,0H4M1.95,0A0.45,0.45,0,1,1,1.05,0A0.45,0.45,0,1,1,1.95,0Z"}, "fill": {"signal": "datum.value == '0.1' ? '#0000ff' : datum.value == '0.25' ? '#ff0000' : '#008000'"}, "stroke": {"signal": "datum.value == '0.1' ? '#0000ff' : datum.value == '0.25' ? '#ff0000' : '#008000'"}, "strokeDash": {"value": [3.7, 1.6]}, "strokeWidth": {"value": 1}, "opacity": {"value": 1}}}}}}}},
  {"mark": {"type": "circle", "size": 20, "opacity": 1, "clip": true},
   "encoding": {"color": {"field": "series", "type": "nominal", "legend": null}}}
 ]
},
{
 "width": 354, "height": 181,
 "title": {"text": "Complete period", "dx": -34.6},
 "transform": [{"filter": "datum.panel == 'CN' || datum.panel == 'RD'"}],
 "encoding": {
  "x": {"field": "k", "type": "quantitative", "scale": {"domain": [-4.15, 108.16], "nice": false, "zero": false}, "axis": {"values": [0,20,40,60,80,100], "title": "k"}},
  "y": {"field": "p", "type": "quantitative", "scale": {"domain": [0.0035, 0.1182], "nice": false, "zero": false}, "axis": {"values": [0.02,0.04,0.06,0.08,0.1], "labels": false, "title": null}}
 },
 "layer": [
  {"transform": [{"filter": "datum.panel == 'CN'"}],
   "mark": {"type": "line", "strokeWidth": 1, "strokeDash": [3.7, 1.6], "clip": true},
   "encoding": {"color": {"field": "series", "type": "nominal", "scale": {"domain": ["0.1","0.25","0.5","Random 0.1","Random 0.25"], "range": ["#0000ff","#ff0000","#008000","#000000","#808080"]},
     "legend": {"title": null, "orient": "top-right", "offset": 5.5, "padding": 5, "strokeColor": "#cccccc", "fillColor": "#ffffff", "cornerRadius": 3, "labelFontSize": 11, "symbolSize": 100, "labelOffset": 20, "rowPadding": 3.5, "zindex": 1,
       "encode": {"symbols": {"update": {
         "shape": {"signal": "datum.value == 'Random 0.25' ? 'M-1,0H3.2' : 'M-1,0H3.2M1.55,0A0.45,0.45,0,1,1,0.65,0A0.45,0.45,0,1,1,1.55,0Z'"},
         "fill": {"signal": "datum.value == '0.1' ? '#0000ff' : datum.value == '0.25' ? '#ff0000' : datum.value == '0.5' ? '#008000' : datum.value == 'Random 0.1' ? '#000000' : 'transparent'"},
         "stroke": {"signal": "datum.value == '0.1' ? '#0000ff' : datum.value == '0.25' ? '#ff0000' : datum.value == '0.5' ? '#008000' : datum.value == 'Random 0.1' ? '#000000' : '#808080'"},
         "strokeDash": {"signal": "datum.value == 'Random 0.1' ? [1, 0] : datum.value == 'Random 0.25' ? [5.5, 2.4] : [3.7, 1.6]"},
         "strokeWidth": {"signal": "datum.value == 'Random 0.1' || datum.value == 'Random 0.25' ? 1.7 : 1"},
         "opacity": {"value": 1}}}}}}}},
  {"transform": [{"filter": "datum.panel == 'RD'"}],
   "mark": {"type": "line", "strokeWidth": 1.7, "clip": true},
   "encoding": {"color": {"field": "series", "type": "nominal", "legend": null},
     "strokeDash": {"field": "series", "type": "nominal", "scale": {"domain": ["Random 0.1","Random 0.25"], "range": [[1, 0],[5.5, 2.4]]}, "legend": null}}},
  {"transform": [{"filter": "datum.series != 'Random 0.25'"}],
   "mark": {"type": "circle", "size": 20, "opacity": 1, "clip": true},
   "encoding": {"color": {"field": "series", "type": "nominal", "legend": null}}}
 ]
}
]
}
